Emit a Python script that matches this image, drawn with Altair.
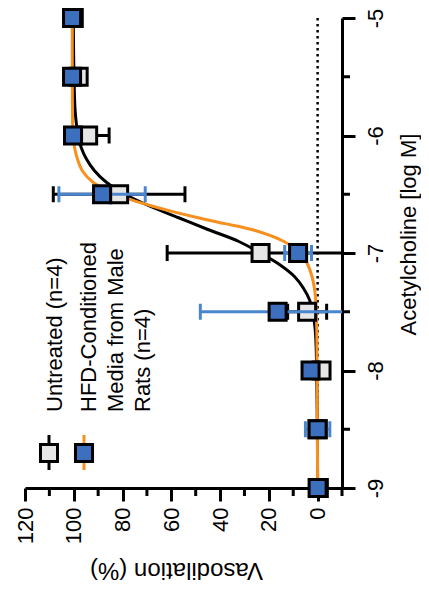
import altair as alt
import pandas as pd

# ---------------- data ----------------
conc = [-9, -8.5, -8, -7.5, -7, -6.5, -6, -5.5, -5]
untreated_mean = [-0.5, 0.0, -1.6, 4.3, 23.4, 81.4, 94.1, 98.0, 100.0]
untreated_sem = [1.0, 1.0, 2.0, 8.0, 38.3, 27.0, 8.6, 1.5, 0.5]
hfd_mean = [0.0, 0.0, 2.9, 16.4, 8.0, 88.4, 100.3, 100.7, 100.7]
hfd_sem = [1.0, 5.0, 2.0, 31.7, 5.5, 17.7, 1.0, 0.5, 0.5]

fit_x_untreated = [-9.0, -8.5, -8.0, -7.8, -7.65, -7.5, -7.4, -7.3, -7.2, -7.1, -7.0,
                   -6.9, -6.8, -6.7, -6.6, -6.5, -6.4, -6.3, -6.2, -6.1, -6.0, -5.8, -5.5, -5.0]
fit_y_untreated = [0.0, 0.1, 0.4, 0.6, 1.0, 2.0, 3.3, 5.8, 9.5, 15.5, 23.5,
                   32.5, 45.0, 57.0, 69.0, 79.0, 86.5, 91.5, 94.8, 97.0, 98.2, 99.4, 99.9, 100.2]
fit_x_hfd = [-9.0, -8.5, -8.0, -7.6, -7.4, -7.3, -7.2, -7.1, -7.0, -6.9, -6.8, -6.75,
             -6.7, -6.65, -6.6, -6.55, -6.5, -6.4, -6.3, -6.2, -6.1, -6.0, -5.5, -5.0]
fit_y_hfd = [0.0, 0.1, 0.2, 0.4, 0.8, 1.3, 2.3, 4.0, 7.0, 14.0, 27.0, 38.0,
             49.0, 59.0, 68.0, 76.0, 82.5, 92.0, 96.5, 98.5, 99.7, 100.3, 100.6, 100.6]

series_names = ["Untreated", "HFD"]
legend_labels = ["Untreated (n=4)", "HFD-Conditioned\nMedia from Male\nRats (n=4)"]
pct_major_ticks = [0, 20, 40, 60, 80, 100, 120]
pct_minor_ticks = [-10, 10, 30, 50, 70, 90, 110]
logc_major_ticks = [-9, -8, -7, -6, -5]
logc_minor_ticks = [-8.5, -7.5, -6.5, -5.5]
baseline_value = [0]
x_title = "Vasodilation (%)"
y_title = "Acetylcholine [log M]"

# ---------------- tables ----------------
n = len(conc)
pts = pd.DataFrame({
    "logc": conc + conc,
    "mean": untreated_mean + hfd_mean,
    "sem": untreated_sem + hfd_sem,
    "series": [series_names[0]] * n + [series_names[1]] * n,
})
pts["lo"] = pts["mean"] - pts["sem"]
pts["hi"] = pts["mean"] + pts["sem"]

fit_u = pd.DataFrame({"logc": fit_x_untreated, "pct": fit_y_untreated,
                      "idx": list(range(len(fit_x_untreated)))})
fit_h = pd.DataFrame({"logc": fit_x_hfd, "pct": fit_y_hfd,
                      "idx": list(range(len(fit_x_hfd)))})
zero_df = pd.DataFrame({"pct": baseline_value})
minor_x_df = pd.DataFrame({"pct": pct_minor_ticks})
minor_y_df = pd.DataFrame({"logc": logc_minor_ticks})
dummy = pd.DataFrame({"a": [0]})

# ---------------- styling ----------------
FONT = "Liberation Sans"
W, H = 317, 470
GRAY = "#e6e6e6"
BLUE = "#3d6fbf"
BLUE_ERR = "#4a86d0"
ORANGE = "#f7901e"

xs = alt.Scale(domain=[-10, 120], reverse=True, nice=False, zero=False)
ys = alt.Scale(domain=[-9, -5], nice=False, zero=False)

x_axis = alt.Axis(
    orient="bottom", values=pct_major_ticks, grid=False,
    tickSize=13, tickWidth=3, tickColor="black",
    domainWidth=3, domainColor="black",
    labelAngle=270, labelAlign="right", labelBaseline="middle", labelFlush=False,
    labelFont=FONT, labelFontSize=22, labelColor="black", labelPadding=6, labelOverlap=False,
    title=x_title, titleAngle=180, titleFont=FONT, titleFontSize=24, titleFontWeight="normal",
    titleColor="black", titleAlign="center", titleBaseline="bottom", titleX=151, titleY=69,
)
y_axis = alt.Axis(
    orient="right", values=logc_major_ticks, grid=False,
    tickSize=13, tickWidth=3, tickColor="black",
    domainWidth=3, domainColor="black",
    labelExpr="replace(datum.label, '\u2212', '-')",
    labelAngle=270, labelAlign="center", labelBaseline="top", labelFlush=False,
    labelFont=FONT, labelFontSize=22, labelColor="black", labelPadding=10, labelOverlap=False,
    title=y_title, titleAngle=270, titleFont=FONT, titleFontSize=22, titleFontWeight="normal",
    titleColor="black", titleAlign="center", titleBaseline="top", titleX=56, titleY=216,
)


def X(field):
    return alt.X(field, scale=xs, axis=x_axis)


def Y(field):
    return alt.Y(field, scale=ys, axis=y_axis)


zero_line = alt.Chart(zero_df).mark_rule(
    color="black", strokeWidth=2.5, strokeDash=[2.5, 3.5]
).encode(x=X("pct:Q"), y=alt.value(0), y2=alt.value(H))

minor_x = alt.Chart(minor_x_df).mark_rule(color="black", strokeWidth=3).encode(
    x=X("pct:Q"), y=alt.value(H), y2=alt.value(H + 8))
minor_y = alt.Chart(minor_y_df).mark_rule(color="black", strokeWidth=3).encode(
    y=Y("logc:Q"), x=alt.value(W), x2=alt.value(W + 8))

curve_u = alt.Chart(fit_u).mark_line(
    interpolate="catmull-rom", strokeWidth=3, color="black"
).encode(x=X("pct:Q"), y=Y("logc:Q"), order="idx:Q")
curve_h = alt.Chart(fit_h).mark_line(
    interpolate="catmull-rom", strokeWidth=3, color=ORANGE
).encode(x=X("pct:Q"), y=Y("logc:Q"), order="idx:Q")


def err_layers(name, color):
    base = alt.Chart(pts).transform_filter(alt.datum.series == name)
    bar = base.mark_rule(color=color, strokeWidth=3, clip=True).encode(
        x=X("lo:Q"), x2="hi:Q", y=Y("logc:Q"),
    )
    caps = base.transform_fold(["lo", "hi"], as_=["end", "val"]).mark_tick(
        color=color, orient="vertical", size=16, thickness=3, clip=True, opacity=1
    ).encode(x=X("val:Q"), y=Y("logc:Q"))
    return bar, caps


def square_layer(name, fill):
    return alt.Chart(pts).transform_filter(alt.datum.series == name).mark_point(
        shape="square", filled=True, fill=fill, stroke="black", strokeWidth=3,
        size=290, opacity=1
    ).encode(x=X("mean:Q"), y=Y("logc:Q"))


u_bar, u_caps = err_layers(series_names[0], "black")
h_bar, h_caps = err_layers(series_names[1], BLUE_ERR)
u_sq = square_layer(series_names[0], GRAY)
h_sq = square_layer(series_names[1], BLUE)

# legend
leg_text0 = alt.Chart(pd.DataFrame({"label": [legend_labels[0]]})).mark_text(
    angle=270, align="left", baseline="alphabetic", font=FONT, fontSize=22, color="black"
).encode(text="label:N", x=alt.value(37), y=alt.value(394))
leg_text1 = alt.Chart(pd.DataFrame({"label": [legend_labels[1]]})).mark_text(
    angle=270, align="left", baseline="alphabetic", font=FONT, fontSize=22, color="black",
    lineBreak="\n", lineHeight=27
).encode(text="label:N", x=alt.value(71), y=alt.value(394))

leg_rule0 = alt.Chart(dummy).mark_rule(color="black", strokeWidth=3).encode(
    x=alt.value(24), y=alt.value(417), y2=alt.value(452))
leg_sq0 = alt.Chart(dummy).mark_point(
    shape="square", filled=True, fill=GRAY, stroke="black", strokeWidth=3, size=290, opacity=1
).encode(x=alt.value(24), y=alt.value(435))
leg_rule1 = alt.Chart(dummy).mark_rule(color=ORANGE, strokeWidth=3).encode(
    x=alt.value(59), y=alt.value(417), y2=alt.value(452))
leg_sq1 = alt.Chart(dummy).mark_point(
    shape="square", filled=True, fill=BLUE, stroke="black", strokeWidth=3, size=290, opacity=1
).encode(x=alt.value(59), y=alt.value(435))

chart = alt.layer(
    zero_line, minor_x, minor_y, curve_u, curve_h,
    u_bar, u_caps, u_sq,
    h_bar, h_caps, h_sq,
    leg_rule0, leg_sq0, leg_rule1, leg_sq1, leg_text0, leg_text1,
).properties(
    width=W, height=H,
    autosize=alt.AutoSizeParams(type="none"),
    padding={"left": 17, "top": 10, "right": 79, "bottom": 100},
).configure_view(stroke=None)

chart.save("out.html", embed_options={"renderer": "svg", "actions": False})
